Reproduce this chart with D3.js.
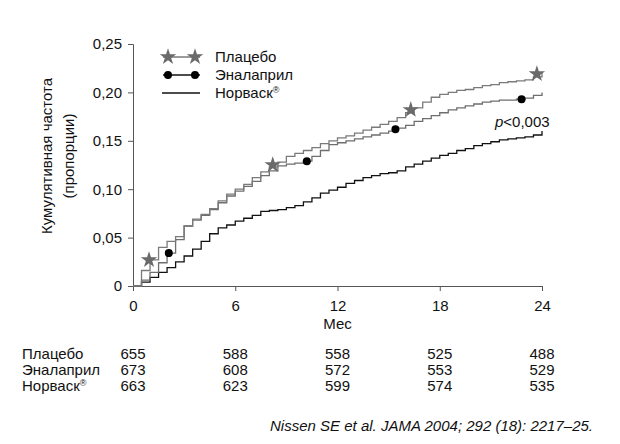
<!DOCTYPE html>
<html>
<head>
<meta charset="utf-8">
<script src="https://cdn.jsdelivr.net/npm/d3@7"></script>
<style>
  body { margin: 0; background: #fff; }
  text { font-family: "Liberation Sans", Arial, sans-serif; fill: #111; }
</style>
</head>
<body>
<svg id="chart" width="620" height="444"></svg>
<script>
// months where the curves are sampled (every half month)
var months = d3.range(0, 24.5, 0.5);

var placebo = [0, 0.016, 0.027, 0.040, 0.046, 0.051, 0.062, 0.069, 0.074, 0.080,
  0.088, 0.095, 0.100, 0.105, 0.112, 0.118, 0.123, 0.128, 0.134, 0.137,
  0.140, 0.143, 0.147, 0.150, 0.153, 0.155, 0.158, 0.161, 0.164, 0.167,
  0.170, 0.174, 0.179, 0.184, 0.190, 0.195, 0.198, 0.200, 0.202, 0.203,
  0.205, 0.207, 0.208, 0.210, 0.211, 0.212, 0.213, 0.216, 0.220];

var enalapril = [0, 0.006, 0.014, 0.024, 0.034, 0.048, 0.062, 0.068, 0.073, 0.079,
  0.086, 0.093, 0.098, 0.103, 0.108, 0.114, 0.119, 0.124, 0.126, 0.127,
  0.129, 0.134, 0.140, 0.146, 0.148, 0.150, 0.152, 0.154, 0.156, 0.158,
  0.160, 0.163, 0.166, 0.170, 0.173, 0.176, 0.179, 0.182, 0.184, 0.186,
  0.188, 0.190, 0.191, 0.192, 0.192, 0.193, 0.194, 0.197, 0.200];

var norvasc = [0, 0.004, 0.009, 0.014, 0.019, 0.025, 0.031, 0.038, 0.046, 0.054,
  0.060, 0.063, 0.067, 0.070, 0.073, 0.077, 0.078, 0.079, 0.081, 0.083,
  0.087, 0.091, 0.096, 0.099, 0.102, 0.106, 0.109, 0.112, 0.114, 0.116,
  0.117, 0.119, 0.123, 0.126, 0.129, 0.132, 0.135, 0.137, 0.140, 0.142,
  0.145, 0.147, 0.149, 0.151, 0.152, 0.153, 0.154, 0.156, 0.160];

// marker positions [month, value]
var placeboMarks = [[0.94, 0.027], [8.2, 0.125], [16.3, 0.182], [23.7, 0.219]];
var enalaprilMarks = [[2.1, 0.034], [10.2, 0.129], [15.4, 0.162], [22.8, 0.193]];

var seriesNames = ["Плацебо", "Эналаприл", "Норваск"];
var xTicks = [0, 6, 12, 18, 24];
var yTicks = [0, 0.05, 0.10, 0.15, 0.20, 0.25];
var atRisk = [
  [655, 588, 558, 525, 488],
  [673, 608, 572, 553, 529],
  [663, 623, 599, 574, 535]
];

var svg = d3.select("#chart");

var x = d3.scaleLinear().domain([0, 24]).range([133, 542]);
var y = d3.scaleLinear().domain([0, 0.25]).range([286, 44]);

var fmt = function (d) { return d === 0 ? "0" : d3.format(".2f")(d).replace(".", ","); };

// axes
var xAxis = svg.append("g")
  .attr("transform", "translate(0," + y(0) + ")")
  .call(d3.axisBottom(x).tickValues(xTicks).tickSize(5).tickPadding(9));
var yAxis = svg.append("g")
  .attr("transform", "translate(" + x(0) + ",0)")
  .call(d3.axisLeft(y).tickValues(yTicks).tickFormat(fmt).tickSize(5).tickPadding(6));

[xAxis, yAxis].forEach(function (g) {
  g.select(".domain").attr("stroke", "#555").attr("stroke-width", 1);
  g.selectAll(".tick line").attr("stroke", "#555");
  g.selectAll(".tick text")
    .style("font-family", "Liberation Sans, Arial, sans-serif")
    .style("font-size", "15px").attr("fill", "#111");
});

svg.append("text")
  .attr("x", x(12)).attr("y", 329)
  .attr("text-anchor", "middle")
  .style("font-size", "15px")
  .text("Мес");

// y title
var yTitle = svg.append("text")
  .attr("transform", "translate(52,156) rotate(-90)")
  .attr("text-anchor", "middle")
  .style("font-size", "15px");
yTitle.append("tspan").attr("x", 0).attr("dy", 0).text("Кумулятивная частота");
yTitle.append("tspan").attr("x", 0).attr("dy", 22).text("(пропорции)");

// curves
var line = d3.line()
  .x(function (d, i) { return x(months[i]); })
  .y(function (d) { return y(d); })
  .curve(d3.curveStepAfter);

svg.append("path").datum(norvasc)
  .attr("fill", "none").attr("stroke", "#111").attr("stroke-width", 1.3)
  .attr("d", line);
svg.append("path").datum(enalapril)
  .attr("fill", "none").attr("stroke", "#6e6e6e").attr("stroke-width", 1.3)
  .attr("d", line);
svg.append("path").datum(placebo)
  .attr("fill", "none").attr("stroke", "#7a7a7a").attr("stroke-width", 1.3)
  .attr("d", line);

var star = d3.symbol().type(d3.symbolStar).size(85);

svg.selectAll(".pm").data(placeboMarks).enter().append("path")
  .attr("class", "pm")
  .attr("transform", function (d) { return "translate(" + x(d[0]) + "," + y(d[1]) + ")"; })
  .attr("d", star)
  .attr("fill", "#6a6a6a");

svg.selectAll(".em").data(enalaprilMarks).enter().append("circle")
  .attr("class", "em")
  .attr("cx", function (d) { return x(d[0]); })
  .attr("cy", function (d) { return y(d[1]); })
  .attr("r", 4)
  .attr("fill", "#000");

// p value
var pText = svg.append("text")
  .attr("x", 495).attr("y", 127)
  .style("font-size", "15px");
pText.append("tspan").style("font-style", "italic").text("p");
pText.append("tspan").text("<0,003");

// legend
var legend = svg.append("g");
var legY = [57, 75, 93];
legend.append("line").attr("x1", 163).attr("x2", 200).attr("y1", legY[0]).attr("y2", legY[0])
  .attr("stroke", "#7a7a7a").attr("stroke-width", 1.3);
legend.selectAll(".ls").data([168, 195]).enter().append("path")
  .attr("transform", function (d) { return "translate(" + d + "," + legY[0] + ")"; })
  .attr("d", star).attr("fill", "#6a6a6a");
legend.append("line").attr("x1", 163).attr("x2", 200).attr("y1", legY[1]).attr("y2", legY[1])
  .attr("stroke", "#111").attr("stroke-width", 1.3);
legend.selectAll(".lc").data([168, 195]).enter().append("circle")
  .attr("cx", function (d) { return d; }).attr("cy", legY[1]).attr("r", 4).attr("fill", "#000");
legend.append("line").attr("x1", 162).attr("x2", 200).attr("y1", legY[2]).attr("y2", legY[2])
  .attr("stroke", "#111").attr("stroke-width", 1.3);

function nameText(sel) {
  sel.each(function (d, i) {
    var t = d3.select(this);
    t.append("tspan").text(d);
    if (i === 2) {
      t.append("tspan").attr("dy", -5).style("font-size", "9px").text("®");
    }
  });
}

legend.selectAll(".lt").data(seriesNames).enter().append("text")
  .attr("x", 215).attr("y", function (d, i) { return legY[i] + 5; })
  .style("font-size", "15px")
  .call(nameText);

// numbers at risk
var rowY = [359, 375, 391];
svg.selectAll(".rl").data(seriesNames).enter().append("text")
  .attr("x", 22).attr("y", function (d, i) { return rowY[i]; })
  .style("font-size", "15px")
  .call(nameText);
atRisk.forEach(function (row, r) {
  svg.selectAll(".rv" + r).data(row).enter().append("text")
    .attr("x", function (d, i) { return x(xTicks[i]); })
    .attr("y", rowY[r])
    .attr("text-anchor", "middle")
    .style("font-size", "15px")
    .text(function (d) { return d; });
});

svg.append("text")
  .attr("x", 593).attr("y", 431)
  .attr("text-anchor", "end")
  .style("font-size", "15px").style("font-style", "italic")
  .text("Nissen SE et al. JAMA 2004; 292 (18): 2217–25.");
</script>
</body>
</html>
